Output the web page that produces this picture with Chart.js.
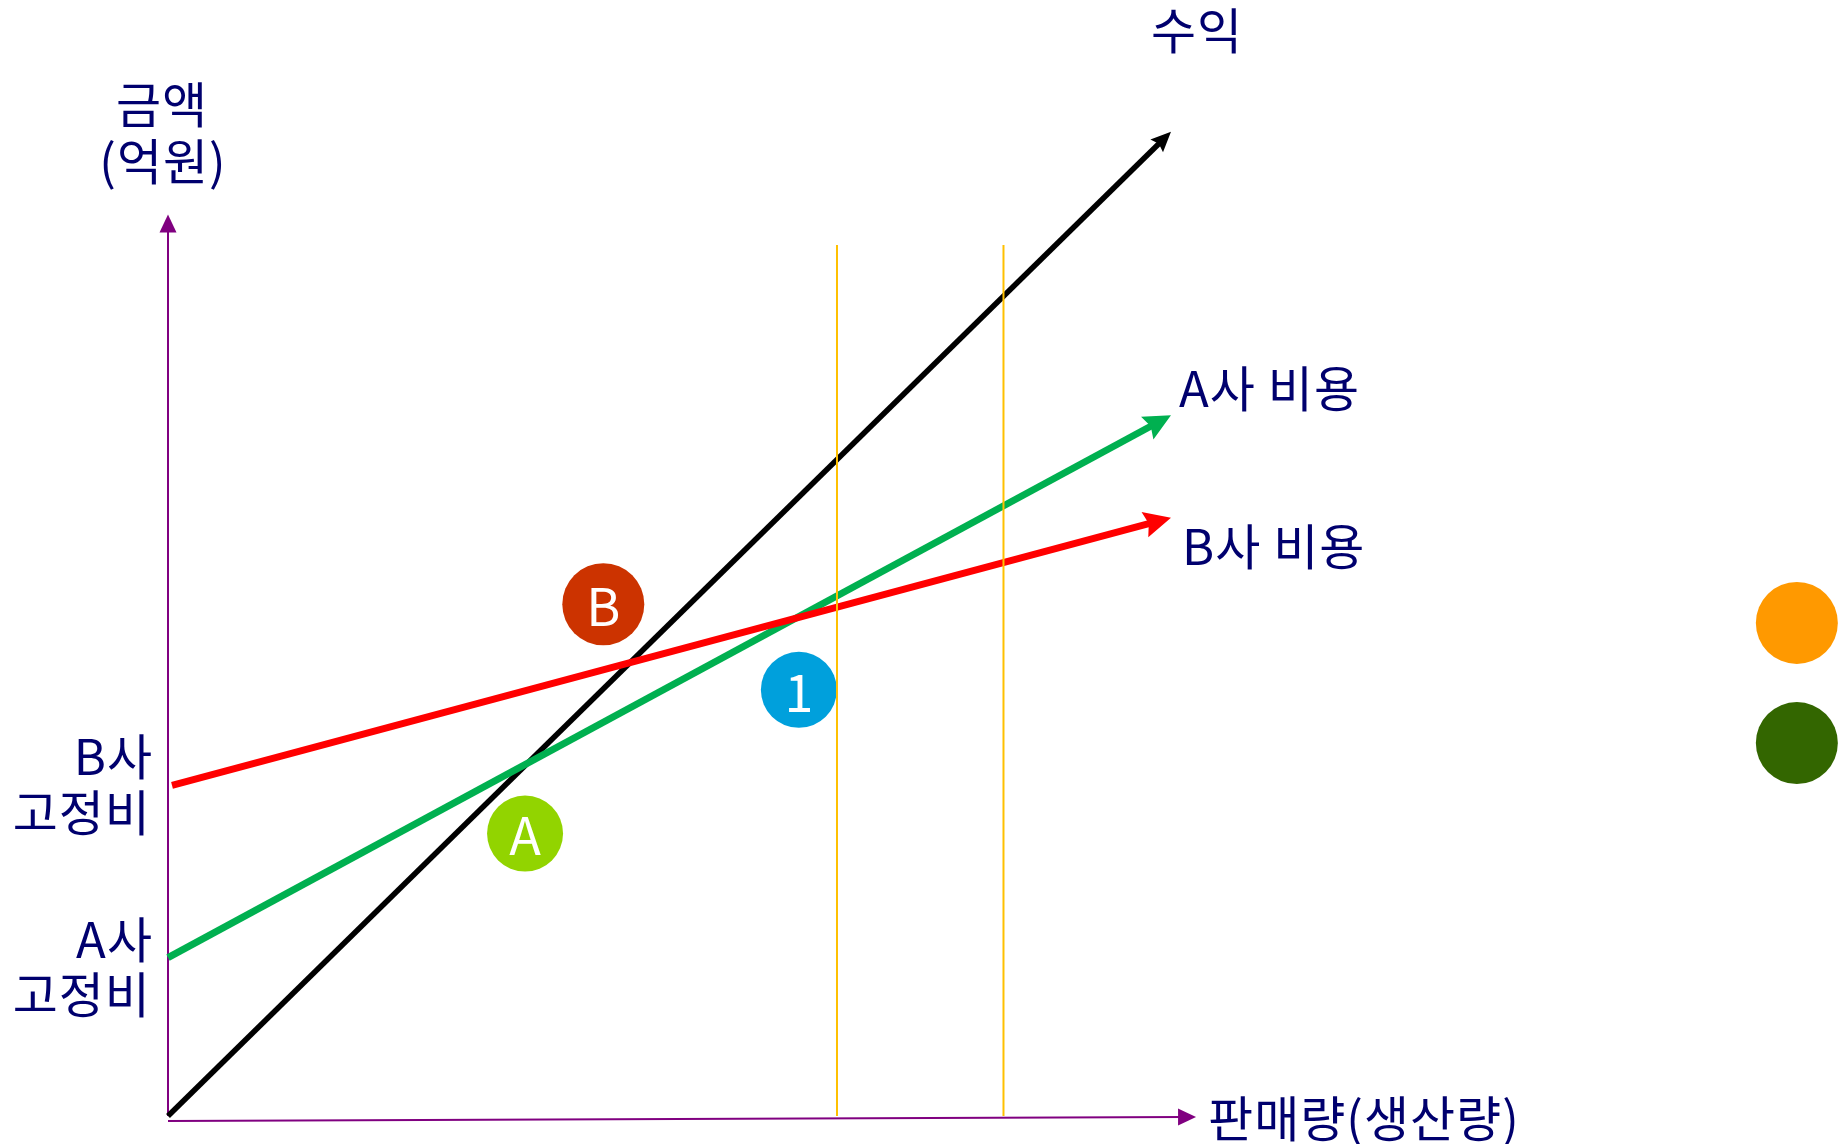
<!DOCTYPE html>
<html>
<head>
<meta charset="utf-8">
<script src="https://cdn.jsdelivr.net/npm/chart.js@4"></script>
<style>
  body { margin: 0; background: #fff; }
  #wrap { width: 1848px; height: 1144px; position: relative; }
</style>
</head>
<body>
<div id="wrap"><canvas id="bep"></canvas></div>
<script>
// 손익분기 그림 데이터 (판매량 0~100, 금액 0~100 기준)
const salesX   = [0, 100];
const revenue  = [0, 100];        // 수익
const costAX   = [0, 100];
const costA    = [16.1, 71.2];    // A사 비용
const costBX   = [0.4, 100];
const costB    = [33.6, 60.8];    // B사 비용
const guideX   = [66.7, 83.3];    // 세로 보조선 위치
const guideTop = 88.5;
const axisEndX = 102.5;
const axisEndY = 91.6;

const markerLabels = ['B', '1', 'A', '', ''];
const markerX = [43.4, 62.9, 35.6, 162.4, 162.4];
const markerY = [52.0, 43.3, 28.7, 50.1, 37.9];

const navy = '#00006e';
const font = "'Noto Sans CJK KR', 'Noto Sans', sans-serif";

function pts(xs, ys){ return xs.map((x,i) => ({x:x, y:ys[i]})); }

// 선 끝 화살표
const arrowHeads = {
  id: 'arrowHeads',
  afterDatasetUpdate(chart, args){
    const ds = chart.data.datasets[args.index];
    if(!ds.arrow) return;
    const p = args.meta.data;
    const a = p[p.length-2], b = p[p.length-1];
    const dx = b.x-a.x, dy = b.y-a.y, d = Math.hypot(dx,dy);
    const ux = dx/d, uy = dy/d;
    args.meta._tip = {x:b.x, y:b.y, ux:ux, uy:uy};
    b.x -= ux*ds.arrow.len*0.6;
    b.y -= uy*ds.arrow.len*0.6;
  },
  afterDatasetDraw(chart, args){
    const ds = chart.data.datasets[args.index];
    const t = args.meta._tip;
    if(!ds.arrow || !t) return;
    const c = chart.ctx, L = ds.arrow.len, H = ds.arrow.half, N = ds.arrow.notch || 0;
    const bx = t.x - t.ux*L, by = t.y - t.uy*L;
    const nx = -t.uy, ny = t.ux;
    c.save();
    c.fillStyle = ds.borderColor;
    c.beginPath();
    c.moveTo(t.x, t.y);
    c.lineTo(bx + nx*H, by + ny*H);
    c.lineTo(t.x - t.ux*(L-N), t.y - t.uy*(L-N));
    c.lineTo(bx - nx*H, by - ny*H);
    c.closePath();
    c.fill();
    c.restore();
  }
};

// 원 안 글자
const markerText = {
  id: 'markerText',
  afterDatasetDraw(chart, args){
    const ds = chart.data.datasets[args.index];
    if(!ds.letters) return;
    const c = chart.ctx;
    c.save();
    c.fillStyle = '#fff';
    c.font = '52px ' + font;
    c.textAlign = 'center';
    c.textBaseline = 'middle';
    args.meta.data.forEach((el, i) => {
      if(ds.letters[i]) c.fillText(ds.letters[i], el.x, el.y + 2);
    });
    c.restore();
  }
};

// 축 제목, 선 이름
const notes = [
  {t:'수익', x:102.6, y:110.3, a:'center'},
  {t:'금액', x:-0.6, y:102.8, a:'center'},
  {t:'(억원)', x:-0.5, y:97.0, a:'center'},
  {t:'A사 비용', x:100.8, y:73.9, a:'left'},
  {t:'B사 비용', x:101.1, y:57.9, a:'left'},
  {t:'B사', x:-1.5, y:36.5, a:'right'},
  {t:'고정비', x:-1.7, y:30.9, a:'right'},
  {t:'A사', x:-1.5, y:17.9, a:'right'},
  {t:'고정비', x:-1.7, y:12.4, a:'right'},
  {t:'판매량(생산량)', x:103.7, y:-0.2, a:'left'}
];
const textNotes = {
  id: 'textNotes',
  afterDraw(chart){
    const c = chart.ctx, sx = chart.scales.x, sy = chart.scales.y;
    c.save();
    c.fillStyle = navy;
    c.font = '49px ' + font;
    c.letterSpacing = '1px';
    c.textBaseline = 'middle';
    notes.forEach(n => {
      c.textAlign = n.a;
      c.fillText(n.t, sx.getPixelForValue(n.x), sy.getPixelForValue(n.y));
    });
    c.restore();
  }
};

const lineBase = {type:'line', fill:false, pointRadius:0, tension:0, clip:false, borderCapStyle:'butt'};

new Chart(document.getElementById('bep'), {
  data: {
    datasets: [
      Object.assign({}, lineBase, {label:'x축', data: pts([0, axisEndX], [-0.5, -0.1]),
        borderColor:'#800080', borderWidth:2, order:10, arrow:{len:18, half:8.5}}),
      Object.assign({}, lineBase, {label:'y축', data: pts([0, 0], [0, axisEndY]),
        borderColor:'#800080', borderWidth:2, order:10, arrow:{len:18, half:8.5}}),
      Object.assign({}, lineBase, {label:'수익', data: pts(salesX, revenue),
        borderColor:'#000000', borderWidth:5.5, order:8, arrow:{len:20, half:9, notch:3}}),
      Object.assign({}, lineBase, {label:'A사 비용', data: pts(costAX, costA),
        borderColor:'#00b050', borderWidth:7, order:7, arrow:{len:27, half:13, notch:4}}),
      Object.assign({}, lineBase, {label:'B사 비용', data: pts(costBX, costB),
        borderColor:'#ff0000', borderWidth:7, order:6, arrow:{len:27, half:13, notch:4}}),
      {type:'scatter', label:'표시', data: pts(markerX, markerY), letters: markerLabels,
        backgroundColor:['#cc3300', '#00a0dc', '#92d400', '#ff9900', '#336600'],
        borderWidth:0, pointRadius:[41, 38, 38, 41, 41], pointHoverRadius:[41, 38, 38, 41, 41],
        clip:false, order:5},
      Object.assign({}, lineBase, {label:'보조선1', data: pts([guideX[0], guideX[0]], [0, guideTop]),
        borderColor:'#ffc000', borderWidth:2, order:4}),
      Object.assign({}, lineBase, {label:'보조선2', data: pts([guideX[1], guideX[1]], [0, guideTop]),
        borderColor:'#ffc000', borderWidth:2, order:4})
    ]
  },
  options: {
    responsive: true,
    maintainAspectRatio: false,
    animation: false,
    events: [],
    layout: { autoPadding: false, padding: { left:168, right:0, top:0, bottom:28 } },
    scales: {
      x: { type:'linear', min:0, max:167.5, display:false },
      y: { type:'linear', min:0, max:113.4, display:false }
    },
    plugins: { legend:{display:false}, tooltip:{enabled:false}, title:{display:false} }
  },
  plugins: [arrowHeads, markerText, textNotes]
});
</script>
</body>
</html>
